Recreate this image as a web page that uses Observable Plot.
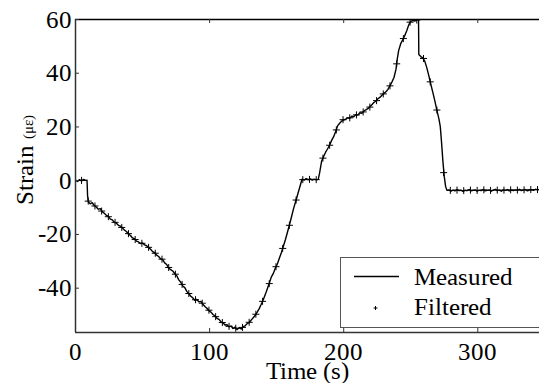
<!DOCTYPE html>
<html><head><meta charset="utf-8">
<script src="https://cdn.jsdelivr.net/npm/d3@7"></script>
<script src="https://cdn.jsdelivr.net/npm/@observablehq/plot@0.6"></script>
<style>
@font-face{font-family:"ChartSerif";src:local("Liberation Serif"),local("LiberationSerif"),local("LiberationSerif-Regular"),local("Liberation Serif Regular");font-display:block;}
body{margin:0;background:#fff;}
#wrap{position:relative;width:539px;height:383px;overflow:hidden;font-family:"ChartSerif","Liberation Serif",serif;}
</style>
</head><body>
<div id="wrap"></div>
<script>
const measuredT = [0,1.5,3,4.5,6,7.5,8.6,9.0,9.5,11,12.5,14,15.5,17,18.5,20,21.5,23,24.5,26,27.5,29,30.5,32,33.5,35,36.5,38,39.5,41,42.5,44,45.5,47,48.5,50,51.5,53,54.5,56,57.5,59,60.5,62,63.5,65,66.5,68,69.5,71,72.5,74,75.5,77,78.5,80,81.5,83,84.5,86,87.5,89,90.5,92,93.5,95,96.5,98,99.5,101,102.5,104,105.5,107,108.5,110,111.5,113,114.5,116,117.5,119,120.5,122,123.5,125,126.5,128,129.5,131,132.5,134,135.5,137,138.5,140,141.5,143,144.5,146,147.5,149,150.5,152,153.5,155,156.5,158,159.5,161,162.5,164,165.5,167,168.5,169,170.5,172,173.5,175,176.5,178,179.5,181,182,183.5,185,186.5,188,189.5,191,192.5,194,195.5,197,198.5,200,201.5,203,204.5,206,207.5,209,210.5,212,213.5,215,216.5,218,219.5,221,222.5,224,225.5,227,228.5,230,231.5,233,234.5,236,237.5,239,240,241,242.5,244,245.5,247,248.5,250,251.5,253,254.5,255.8,256,257.5,259,260.5,262,263.5,265,266.5,268,269.5,271,272,273,274,275,276,277,278.5,280,281.5,283,284.5,286,287.5,289,290.5,292,293.5,295,296.5,298,299.5,301,302.5,304,305.5,307,308.5,310,311.5,313,314.5,316,317.5,319,320.5,322,323.5,325,326.5,328,329.5,331,332.5,334,335.5,337,338.5,340,341.5,343,344.5,346];
const measuredV = [0.2,-0.3,0.4,-0.1,0.5,0.1,0.2,-5.5,-7.8,-8.6,-8.2,-9.3,-9.8,-10.6,-10.4,-11.6,-12.1,-12.9,-13.3,-14.3,-14.6,-15.5,-15.8,-16.6,-16.9,-17.6,-18.4,-18.9,-19.9,-20.4,-21.3,-21.6,-22.5,-22.8,-23.4,-23.2,-23.9,-24.2,-24.9,-25.5,-26.4,-26.8,-27.7,-28.2,-29.1,-29.4,-30.6,-31.2,-32.6,-33.1,-33.6,-34.6,-35.4,-36.9,-37.8,-39.2,-39.8,-41.2,-42.1,-43.0,-43.6,-44.5,-44.2,-45.1,-44.9,-46.0,-46.8,-47.5,-48.4,-48.9,-49.8,-50.3,-51.2,-51.6,-52.5,-52.9,-53.7,-53.6,-54.4,-54.1,-55.0,-54.5,-55.4,-54.7,-55.2,-54.3,-54.0,-53.2,-52.8,-51.9,-51.0,-50.1,-48.9,-47.6,-46.0,-44.3,-42.4,-40.3,-38.2,-35.9,-34.5,-32.6,-31.0,-28.9,-26.8,-24.4,-22.0,-19.3,-16.5,-13.6,-10.6,-8.0,-5.4,-2.8,-0.2,0.6,0.2,0.8,0.3,0.7,0.2,0.6,0.3,0.5,2.8,7.2,9.0,10.6,11.9,13.3,15.0,16.4,18.3,20.5,21.4,22.2,22.6,22.9,23.4,23.2,24.0,23.8,24.6,24.4,25.3,25.1,25.9,26.4,26.8,27.5,28.3,29.1,29.6,30.5,31.0,31.8,32.5,33.1,34.0,35.4,36.8,38.4,41.5,45.5,48.5,51.0,52.4,54.0,55.8,58.0,59.3,59.7,59.4,60.0,59.8,47.0,46.2,45.7,44.4,42.0,39.0,35.8,32.8,29.6,26.2,23.0,20.2,14.0,7.0,1.5,-2.2,-3.6,-3.4,-3.9,-3.5,-3.8,-3.3,-3.7,-3.5,-4.0,-3.5,-3.7,-3.3,-3.8,-3.6,-3.4,-3.9,-3.5,-3.7,-3.3,-3.8,-3.6,-3.4,-3.9,-3.5,-3.2,-3.7,-3.5,-3.9,-3.4,-3.6,-3.3,-3.8,-3.5,-3.7,-3.4,-3.6,-3.2,-3.7,-3.5,-3.3,-3.8,-3.5,-3.4,-3.6,-3.2,-3.4,-3.2];
const filteredT = [4.5,9.5,14.5,19.5,24.5,29.5,34.5,39.5,44.5,49.5,54.5,59.5,64.5,69.5,74.5,79.5,84.5,89.5,94.5,99.5,104.5,109.5,114.5,119.5,124.5,129.5,134.5,139.5,144.5,149.5,154.5,159.5,164.5,169.5,174.5,179.5,184.5,189.5,194.5,199.5,204.5,209.5,214.5,219.5,224.5,229.5,234.5,239.5,244.5,249.5,254.5,259.5,264.5,269.5,274.5,279.5,284.5,289.5,294.5,299.5,304.5,309.5,314.5,319.5,324.5,329.5,334.5,339.5,344.5];
const filteredV = [0.1,-7.6,-9.4,-11.3,-13.4,-15.5,-17.4,-19.7,-21.9,-23.3,-24.8,-27.0,-29.2,-32.3,-34.8,-38.6,-42.0,-44.3,-45.6,-48.2,-50.6,-52.8,-54.2,-54.9,-54.6,-52.7,-49.7,-44.9,-38.3,-32.0,-25.2,-16.6,-7.2,0.4,0.5,0.4,8.4,13.2,18.9,22.7,23.4,24.5,25.6,27.4,29.8,32.3,35.3,43.5,52.9,59.0,59.8,45.5,36.8,26.3,3.0,-3.6,-3.5,-3.7,-3.5,-3.6,-3.4,-3.6,-3.5,-3.5,-3.4,-3.5,-3.4,-3.3,-3.3];
const xTicks = [0,100,200,300];
const yTicks = [-40,-20,0,20,40,60];
const xDomain = [0,346];
const yDomain = [-56.5,60];
const legendLabels = ["Measured","Filtered"];

const measured = measuredT.map((t,i)=>({t, v: measuredV[i]}));
const filtered = filteredT.map((t,i)=>({t, v: filteredV[i]}));

const FONT = "ChartSerif, 'Liberation Serif', serif";
const chart = Plot.plot({
  width: 539, height: 383,
  marginLeft: 75, marginRight: 0, marginTop: 19, marginBottom: 51,
  style: {fontFamily: FONT, fontSize: "25px"},
  x: {domain: xDomain, ticks: xTicks},
  y: {domain: yDomain, ticks: yTicks},
  marks: [
    Plot.line(measured, {x: "t", y: "v", stroke: "#000", strokeWidth: 1.4, clip: true}),
    Plot.dot(filtered, {x: "t", y: "v", symbol: "plus", r: 2.4, stroke: "#000", strokeWidth: 1, clip: true}),
    Plot.ruleY([yDomain[1]], {stroke: "#000", strokeWidth: 1.3}),
    Plot.ruleY([yDomain[0]], {stroke: "#333", strokeWidth: 1.5}),
    Plot.ruleX([xDomain[0]], {stroke: "#333", strokeWidth: 1.5}),
    Plot.ruleX(xTicks, {y1: yDomain[0], y2: yDomain[0] + 1.5, stroke: "#333"}),
    Plot.ruleX(xTicks, {y1: yDomain[1], y2: yDomain[1] - 1.5, stroke: "#333"}),
    Plot.ruleY(yTicks, {x1: xDomain[0], x2: xDomain[0] + 3, stroke: "#333"}),
    Plot.axisX(xTicks, {anchor: "bottom", tickSize: 0, tickPadding: 10, label: null, tickFormat: d => String(d)}),
    Plot.axisY(yTicks, {anchor: "left", tickSize: 0, tickPadding: 4, label: null, tickFormat: d => String(d)}),
    Plot.text(["Time (s)"], {frameAnchor: "bottom", dy: 46, lineAnchor: "bottom"})
  ]
});
const wrap = document.getElementById("wrap");
wrap.appendChild(chart);

const svg = d3.select(chart);
const yl = svg.append("text")
  .attr("transform", "translate(33,160) rotate(-90)")
  .attr("text-anchor", "middle")
  .style("font-family", FONT)
  .attr("font-size", 25)
  .attr("fill", "#000");
yl.append("tspan").text("Strain ");
yl.append("tspan").attr("font-size", 15).text("(με)");

// legend box
const NS = "http://www.w3.org/2000/svg";
const lgSvg = d3.select(document.createElementNS(NS, "svg"))
  .attr("width", 205).attr("height", 72)
  .style("position", "absolute").style("left", "339.5px").style("top", "256.5px");
lgSvg.append("rect").attr("x", 0.5).attr("y", 0.5).attr("width", 220).attr("height", 70)
  .attr("fill", "#fff").attr("stroke", "#555");
lgSvg.append("line").attr("x1", 14).attr("x2", 59).attr("y1", 19.5).attr("y2", 19.5)
  .attr("stroke", "#000").attr("stroke-width", 1.3);
lgSvg.append("path").attr("d", "M35.5,49v4M33.5,51h4").attr("stroke", "#000");
lgSvg.selectAll("text.l").data(legendLabels).join("text")
  .attr("x", 74).attr("y", (d, i) => 28 + i * 30)
  .style("font-family", FONT).attr("font-size", 25).attr("fill", "#000")
  .text(d => d);
wrap.appendChild(lgSvg.node());
</script>
</body></html>
